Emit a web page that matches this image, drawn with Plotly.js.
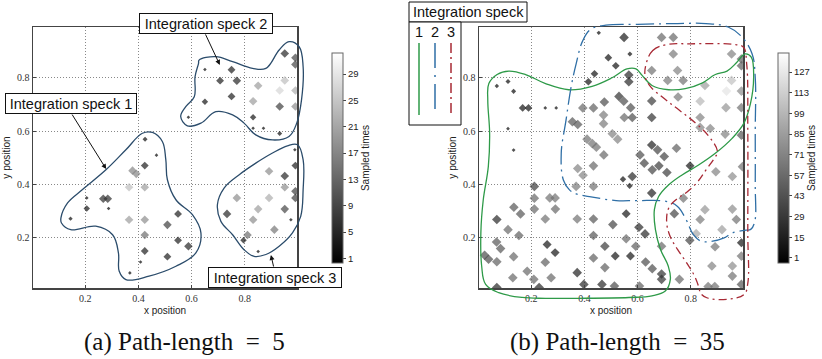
<!DOCTYPE html>
<html>
<head>
<meta charset="utf-8">
<script src="https://cdn.plot.ly/plotly-3.0.1.min.js"></script>
<style>html,body{margin:0;padding:0;background:#fff}</style>
</head>
<body>
<div id="chart" style="width:822px;height:359px"></div>
<script>
// ---- (a) Path-length = 5 : sampled positions and sample counts ----
const aX = [0.65,0.75,0.707,0.77,0.75,0.65,0.588,0.831,0.831,0.87,0.931,0.95,0.99,0.99,0.95,0.85,0.931,0.99,0.831,0.931,0.99,
  0.425,0.468,0.424,0.378,0.392,0.365,0.424,0.268,0.285,0.206,0.206,0.288,0.145,0.365,0.424,0.549,0.509,0.424,0.549,0.588,0.424,0.509,0.408,0.368,
  0.988,0.99,0.891,0.95,0.95,0.99,0.99,0.77,0.891,0.85,0.95,0.733,0.831,0.973,0.911,0.81,0.795,0.85];
const aY = [0.831,0.83,0.789,0.789,0.73,0.71,0.652,0.652,0.611,0.611,0.591,0.891,0.875,0.85,0.79,0.77,0.752,0.752,0.712,0.692,0.692,
  0.57,0.51,0.471,0.452,0.44,0.39,0.39,0.347,0.347,0.35,0.31,0.31,0.272,0.268,0.268,0.29,0.249,0.211,0.191,0.169,0.151,0.13,0.11,0.069,
  0.53,0.471,0.45,0.432,0.39,0.375,0.35,0.35,0.35,0.308,0.308,0.29,0.268,0.268,0.231,0.211,0.191,0.149];
const aCount = [1,4,4,5,4,3,1,3,1,1,2,5,9,9,24,20,27,22,20,8,18,
  2,1,4,17,17,24,20,6,6,1,3,1,1.5,20,18,4,8,14,4,5,4,4,1,1,
  1,4,18,5,18,8,8,18,22,20,9,5,18,1,15,14,3,1];

// ---- (b) Path-length = 35 ----
const bX = [0.071,0.113,0.134,0.168,0.19,0.253,0.294,0.113,0.134,0.454,0.49,0.518,0.415,0.438,0.394,0.434,0.475,0.355,0.375,0.472,0.472,0.41,0.43,0.445,0.505,0.525,0.473,
  0.549,0.571,0.567,0.567,0.69,0.734,0.734,0.653,0.75,0.713,0.771,0.853,0.953,0.99,0.99,0.953,0.934,0.99,0.752,0.835,0.932,0.99,0.53,0.548,0.574,0.653,0.55,0.58,0.653,0.835,0.835,0.873,0.929,0.99,0.653,0.675,0.7,0.746,0.609,
  0.434,0.375,0.395,0.369,0.434,0.212,0.212,0.27,0.29,0.212,0.291,0.135,0.16,0.071,0.253,0.373,0.434,0.113,0.154,0.434,0.07,0.085,0.26,0.29,0.025,0.04,0.071,0.134,0.253,0.373,0.434,0.131,0.185,0.21,0.275,0.071,0.23,0.398,0.466,0.507,
  0.625,0.655,0.68,0.71,0.797,0.58,0.545,0.57,0.894,0.956,0.994,0.653,0.772,0.853,0.956,0.738,0.557,0.835,0.971,0.605,0.628,0.917,0.82,0.796,0.99,0.891,0.557,0.593,0.516,0.573,0.477,0.69,0.879,0.956,0.99,0.477,0.63,0.655,0.69,0.69,0.513,0.607,0.757,0.865,0.89,0.956,0.99];
const bY = [0.769,0.786,0.749,0.687,0.687,0.687,0.687,0.609,0.529,0.968,0.875,0.845,0.785,0.815,0.687,0.687,0.709,0.635,0.625,0.66,0.628,0.57,0.553,0.54,0.59,0.57,0.511,
  0.951,0.889,0.81,0.785,0.951,0.951,0.889,0.827,0.827,0.79,0.79,0.771,0.889,0.87,0.845,0.79,0.75,0.75,0.728,0.712,0.688,0.688,0.73,0.712,0.688,0.713,0.651,0.651,0.651,0.651,0.614,0.61,0.589,0.585,0.548,0.53,0.505,0.536,0.511,
  0.47,0.46,0.435,0.393,0.393,0.393,0.349,0.35,0.35,0.308,0.308,0.315,0.29,0.269,0.271,0.271,0.271,0.231,0.209,0.209,0.185,0.16,0.175,0.145,0.135,0.12,0.111,0.13,0.109,0.07,0.125,0.051,0.075,0.045,0.051,0.014,0.014,0.026,0.026,0.25,
  0.48,0.455,0.47,0.445,0.47,0.43,0.42,0.395,0.448,0.43,0.467,0.368,0.349,0.306,0.308,0.291,0.291,0.269,0.269,0.24,0.215,0.231,0.216,0.191,0.182,0.167,0.197,0.169,0.132,0.132,0.169,0.169,0.095,0.095,0.132,0.089,0.11,0.085,0.065,0.045,0.02,0.02,0.045,0.018,0.018,0.057,0.026];
const bCount = [3,4,4,8,8,2,2,2,2,3,8,8,8,8,55,50,40,45,45,65,65,60,60,60,70,70,55,
  12,4,20,20,55,55,65,60,70,65,60,85,70,50,50,105,125,75,65,100,80,60,25,40,40,30,55,40,25,70,70,70,70,45,15,35,35,50,40,
  55,70,70,65,60,30,55,60,60,55,55,45,45,20,60,60,45,55,50,45,45,45,10,10,40,40,50,55,50,15,50,55,55,55,55,20,20,20,20,35,
  35,35,30,30,10,20,6,6,70,75,60,15,60,80,75,35,10,65,60,20,20,85,90,35,10,60,55,50,10,10,30,55,70,75,60,50,40,40,25,25,40,50,55,60,60,60,45];

// ---- integration speck outlines ----
const aSpeck1X = [0.109,0.134,0.19,0.278,0.353,0.415,0.453,0.49,0.503,0.509,0.541,0.603,0.635,0.616,0.541,0.44,0.353,0.328,0.325,0.303,0.24,0.146,0.111,0.109];
const aSpeck1Y = [0.275,0.331,0.381,0.455,0.53,0.592,0.595,0.561,0.493,0.418,0.343,0.287,0.219,0.144,0.094,0.057,0.044,0.075,0.144,0.212,0.244,0.231,0.256,0.275];
const aSpeck2X = [0.628,0.691,0.754,0.829,0.879,0.929,0.966,1.004,1.019,1.013,0.995,0.966,0.904,0.841,0.797,0.754,0.691,0.635,0.584,0.559,0.578,0.61,0.613,0.626,0.628];
const aSpeck2Y = [0.866,0.879,0.86,0.835,0.835,0.904,0.935,0.916,0.841,0.717,0.63,0.58,0.567,0.586,0.63,0.661,0.673,0.63,0.62,0.655,0.692,0.729,0.804,0.854,0.866];
const aSpeck3X = [0.998,1.019,1.019,1.01,0.979,0.929,0.879,0.835,0.797,0.754,0.71,0.697,0.722,0.779,0.841,0.904,0.96,0.998];
const aSpeck3Y = [0.549,0.493,0.381,0.281,0.219,0.169,0.138,0.131,0.156,0.212,0.262,0.325,0.387,0.437,0.48,0.518,0.545,0.549];

const bSpeck1X = [0.166,0.078,0.029,0.014,0.011,0.02,0.039,0.044,0.037,0.041,0.072,0.116,0.179,0.254,0.341,0.429,0.504,0.56,0.594,0.617,0.654,0.717,0.779,0.842,0.892,0.936,0.973,1.004,1.027,1.036,1.024,0.999,0.955,0.892,0.829,0.767,0.717,0.679,0.663,0.667,0.686,0.715,0.723,0.704,0.654,0.567,0.379,0.254,0.166];
const bSpeck1Y = [-0.023,-0.005,0.026,0.095,0.219,0.343,0.467,0.591,0.715,0.778,0.812,0.825,0.812,0.778,0.755,0.768,0.8,0.833,0.833,0.809,0.771,0.755,0.759,0.78,0.812,0.825,0.858,0.889,0.877,0.802,0.703,0.629,0.573,0.517,0.473,0.436,0.399,0.355,0.306,0.231,0.157,0.095,0.045,0.001,-0.017,-0.023,-0.026,-0.026,-0.023];
const bSpeck2X = [0.425,0.481,0.6,0.75,0.857,0.94,0.99,1.03,1.042,1.042,1.042,1.04,1.025,1.007,0.957,0.925,0.882,0.838,0.809,0.782,0.75,0.707,0.6,0.519,0.419,0.369,0.344,0.321,0.313,0.331,0.35,0.369,0.394,0.425];
const bSpeck2Y = [0.982,0.997,1.0,1.003,1.003,0.99,0.955,0.89,0.8,0.6,0.4,0.26,0.232,0.229,0.219,0.2,0.188,0.188,0.213,0.269,0.318,0.337,0.34,0.34,0.355,0.365,0.38,0.417,0.517,0.641,0.765,0.852,0.939,0.982];
const bSpeck3X = [0.632,0.657,0.707,0.794,0.969,0.998,1.01,1.014,1.014,1.014,1.0,0.942,0.86,0.835,0.832,0.817,0.788,0.75,0.722,0.709,0.717,0.744,0.788,0.826,0.857,0.888,0.9,0.869,0.819,0.757,0.7,0.65,0.629,0.632];
const bSpeck3Y = [0.852,0.902,0.924,0.927,0.924,0.914,0.85,0.6,0.22,0.03,-0.012,-0.029,-0.024,-0.005,0.008,0.051,0.101,0.157,0.206,0.262,0.312,0.343,0.374,0.411,0.455,0.498,0.523,0.579,0.629,0.678,0.722,0.765,0.802,0.852];

// ticks
const posTicks = [0.2, 0.4, 0.6, 0.8];
const aCbTicks = [1, 5, 9, 13, 17, 21, 25, 29];
const bCbTicks = [1, 15, 29, 43, 57, 71, 85, 99, 113, 127];

// ---- page geometry (pixels on an 822 x 359 page) ----
const W = 822, H = 359;
const px = v => v / W;
const py = v => 1 - v / H;
const xRange = [0.004, 0.996], yRange = [0.0125, 0.99];
const aDom = [px(33), px(297)], bDom = [px(479), px(743)];
const yDom = [py(288), py(27)];
// wider, hidden axes so outlines may run past the frame
const extX = [-0.1, 1.1], extY = [-0.1, 1.05];
function widen(dom, rng, ext) {
  const k = (dom[1] - dom[0]) / (rng[1] - rng[0]);
  return [dom[0] + (ext[0] - rng[0]) * k, dom[1] + (ext[1] - rng[1]) * k];
}

// a cell's footprint grows with its sample count
const aSize = aCount.map(v => 2.2 + 4.4 * Math.min(1, Math.max(0, (v - 0.5) / 4)));
const bSize = bCount.map(v => 2.4 + 5.0 * Math.min(1, Math.max(0, (v - 1) / 10)));

const sans = 'Liberation Sans';
const serif = 'Liberation Serif';

const traces = [
  { type: 'scatter', mode: 'markers', x: aX, y: aY, xaxis: 'x', yaxis: 'y', hoverinfo: 'skip',
    marker: { symbol: 'diamond', size: aSize, color: aCount, coloraxis: 'coloraxis', line: { width: 0 } } },
  { type: 'scatter', mode: 'markers', x: bX, y: bY, xaxis: 'x2', yaxis: 'y2', hoverinfo: 'skip',
    marker: { symbol: 'diamond', size: bSize, color: bCount, coloraxis: 'coloraxis2', line: { width: 0 } } },
  { type: 'scatter', mode: 'lines', x: aSpeck1X, y: aSpeck1Y, xaxis: 'x3', yaxis: 'y3', line: { shape: 'spline', smoothing: 1.1, color: '#2b4c6b', width: 1.3 } },
  { type: 'scatter', mode: 'lines', x: aSpeck2X, y: aSpeck2Y, xaxis: 'x3', yaxis: 'y3', line: { shape: 'spline', smoothing: 1.1, color: '#2b4c6b', width: 1.3 } },
  { type: 'scatter', mode: 'lines', x: aSpeck3X, y: aSpeck3Y, xaxis: 'x3', yaxis: 'y3', line: { shape: 'spline', smoothing: 1.1, color: '#2b4c6b', width: 1.3 } },
  { type: 'scatter', mode: 'lines', x: bSpeck1X, y: bSpeck1Y, xaxis: 'x4', yaxis: 'y4', line: { shape: 'spline', smoothing: 1.1, color: '#2e9a48', width: 1.3 } },
  { type: 'scatter', mode: 'lines', x: bSpeck2X, y: bSpeck2Y, xaxis: 'x4', yaxis: 'y4', line: { shape: 'spline', smoothing: 1.1, color: '#2f6fa6', width: 1.3, dash: '18px,5px,2px,5px' } },
  { type: 'scatter', mode: 'lines', x: bSpeck3X, y: bSpeck3Y, xaxis: 'x4', yaxis: 'y4', line: { shape: 'spline', smoothing: 1.1, color: '#a82a35', width: 1.3, dash: '8px,4px,2px,4px' } }
];

function posAxis(domain, range, anchor, title, standoff) {
  return {
    domain, range, anchor, tickvals: posTicks, ticktext: posTicks.map(v => v.toFixed(1)),
    showline: true, mirror: true, linecolor: '#444', linewidth: 1.5,
    showgrid: true, gridcolor: '#888', griddash: '1px,2px', gridwidth: 1, zeroline: false,
    ticks: 'inside', ticklen: 3, tickcolor: '#444',
    tickfont: { family: serif, size: 10, color: '#333' },
    title: { text: title, font: { family: sans, size: 10, color: '#222' }, standoff },
    fixedrange: true, automargin: false
  };
}
function hiddenAxis(domain, range, anchor) {
  return { domain, range, anchor, visible: false, showgrid: false, zeroline: false, fixedrange: true };
}
function colorbar(xPix, ticks) {
  return {
    x: px(xPix), xanchor: 'left', xpad: 0, y: py(158), yanchor: 'middle', ypad: 0,
    len: 210 / H, lenmode: 'fraction', thickness: 11, thicknessmode: 'pixels',
    outlinewidth: 1, outlinecolor: '#666',
    tickvals: ticks, ticks: 'outside', ticklen: 3, tickcolor: '#444',
    tickfont: { family: sans, size: 9.5, color: '#222' },
    title: { text: 'Sampled times', side: 'right', font: { family: sans, size: 10, color: '#222' } }
  };
}
const grays = [[0, '#000000'], [1, '#ffffff']];

// centred, paper-positioned text
function label(text, x, y, font, extra) {
  return Object.assign({ text, x: px(x), y: py(y), xref: 'paper', yref: 'paper', xanchor: 'center', yanchor: 'middle',
    showarrow: false, font }, extra || {});
}
const boxFont = { family: sans, size: 14.5, color: '#111' };
const boxStyle = { bgcolor: '#fff', bordercolor: '#111', borderwidth: 1, borderpad: 1, height: 17 };
const arrowStyle = { text: '', showarrow: true, arrowhead: 2, arrowsize: 1, arrowwidth: 1, arrowcolor: '#111', axref: 'pixel', ayref: 'pixel' };
const captionFont = { family: serif, size: 25, color: '#111' };

const annotations = [
  label('Integration speck 2', 206, 23, boxFont, Object.assign({ width: 130 }, boxStyle)),
  label('Integration speck 1', 71, 103, boxFont, Object.assign({ width: 128 }, boxStyle)),
  label('Integration speck 3', 275, 277.5, boxFont, Object.assign({ width: 130 }, boxStyle)),
  Object.assign({}, arrowStyle, { xref: 'x', yref: 'y', x: 0.706, y: 0.848, ax: -15, ay: -32 }),
  Object.assign({}, arrowStyle, { xref: 'x', yref: 'y', x: 0.279, y: 0.458, ax: -35, ay: -56 }),
  Object.assign({}, arrowStyle, { xref: 'x', yref: 'y', x: 0.898, y: 0.136, ax: 3, ay: 13 }),
  // speck key for panel (b)
  label('Integration speck', 468, 12, boxFont),
  label('1', 419, 32, boxFont),
  label('2', 435, 32, boxFont),
  label('3', 451, 32, boxFont),
  // captions
  label('(a) Path-length\u2002=\u20025', 184, 342, captionFont),
  label('(b) Path-length\u2002=\u200235', 617, 342, captionFont)
];

const shapes = [
  { type: 'rect', xref: 'paper', yref: 'paper', x0: px(409), x1: px(527), y0: py(22), y1: py(2), line: { color: '#111', width: 1 }, fillcolor: '#fff' },
  { type: 'rect', xref: 'paper', yref: 'paper', x0: px(409), x1: px(461), y0: py(125), y1: py(22), line: { color: '#111', width: 1 }, fillcolor: '#fff' },
  { type: 'line', xref: 'paper', yref: 'paper', x0: px(419), x1: px(419), y0: py(43), y1: py(115), line: { color: '#2e9a48', width: 1.5 } },
  { type: 'line', xref: 'paper', yref: 'paper', x0: px(435), x1: px(435), y0: py(43), y1: py(115), line: { color: '#2f6fa6', width: 1.5, dash: '25px,7px,2px,7px' } },
  { type: 'line', xref: 'paper', yref: 'paper', x0: px(451), x1: px(451), y0: py(43), y1: py(115), line: { color: '#a82a35', width: 1.5, dash: '10px,4px,2px,4px' } }
];

const layout = {
  width: W, height: H, margin: { l: 0, r: 0, t: 0, b: 0 },
  paper_bgcolor: '#fff', plot_bgcolor: 'rgba(0,0,0,0)', showlegend: false,
  xaxis: posAxis(aDom, xRange, 'y', 'x position', 4),
  yaxis: posAxis(yDom, yRange, 'x', 'y position', 4),
  xaxis2: posAxis(bDom, xRange, 'y2', 'x position', 4),
  yaxis2: posAxis(yDom, yRange, 'x2', 'y position', 4),
  xaxis3: hiddenAxis(widen(aDom, xRange, extX), extX, 'y3'),
  yaxis3: hiddenAxis(widen(yDom, yRange, extY), extY, 'x3'),
  xaxis4: hiddenAxis(widen(bDom, xRange, extX), extX, 'y4'),
  yaxis4: hiddenAxis(widen(yDom, yRange, extY), extY, 'x4'),
  coloraxis: { colorscale: grays, cmin: 0.3, cmax: 32.2, colorbar: colorbar(332, aCbTicks) },
  coloraxis2: { colorscale: grays, cmin: -2.5, cmax: 140, colorbar: colorbar(778, bCbTicks) },
  annotations, shapes
};

Plotly.newPlot('chart', traces, layout, { staticPlot: true, displayModeBar: false });
</script>
</body>
</html>
